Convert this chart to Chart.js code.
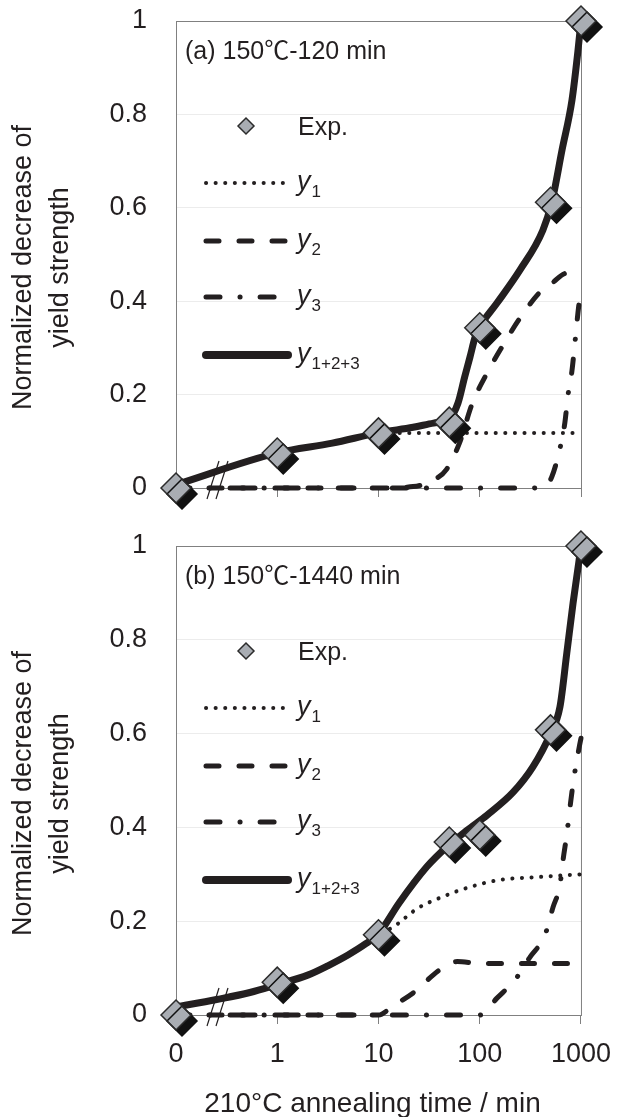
<!DOCTYPE html>
<html>
<head>
<meta charset="utf-8">
<script src="https://cdn.jsdelivr.net/npm/chart.js@4.4.0/dist/chart.umd.min.js"></script>
<style>
  body { margin: 0; background: #fff; width: 617px; height: 1117px; overflow: hidden; }
  canvas { position: absolute; left: 0; }
  #chartA { top: 0; }
  #chartB { top: 510px; }
</style>
</head>
<body>
<canvas id="chartA" width="617" height="510"></canvas>
<canvas id="chartB" width="617" height="607"></canvas>
<script>
// x axis: 0 then one decade per step (axis is broken between 0 and 1)
var xTickLabels = ["0", "1", "10", "100", "1000"];
var yTickValues = [0, 0.2, 0.4, 0.6, 0.8, 1];
var yTickLabels = ["0", "0.2", "0.4", "0.6", "0.8", "1"];

// (a) 150℃-120 min
var expTimeA = [0, 1, 10, 50, 100, 500, 1000];
var expA     = [0, 0.075, 0.118, 0.141, 0.343, 0.612, 1.0];
var sumTimeA = [0, 1, 3.5, 10, 22, 35, 50, 61, 71, 80, 90, 100, 148, 250, 420, 515, 650, 815, 935, 1000];
var sumA     = [0.007, 0.075, 0.096, 0.118, 0.13, 0.139, 0.148, 0.182, 0.238, 0.28, 0.323, 0.345, 0.396, 0.467, 0.552, 0.612, 0.724, 0.831, 0.938, 1.0];
var y1TimeA  = [0, 1, 3.5, 10, 22, 50, 100, 1000];
var y1A      = [0.007, 0.075, 0.096, 0.116, 0.118, 0.118, 0.118, 0.118];
var y2TimeA  = [0, 10, 22, 35, 47, 63, 84, 118, 170, 250, 395, 525, 725, 935, 1000];
var y2A      = [0, 0, 0.003, 0.017, 0.04, 0.096, 0.18, 0.246, 0.306, 0.364, 0.42, 0.44, 0.46, 0.452, 0.45];
var y3TimeA  = [0, 300, 450, 515, 620, 693, 742, 813, 870, 933, 1000];
var y3A      = [0, 0, 0.005, 0.024, 0.085, 0.14, 0.197, 0.25, 0.31, 0.375, 0.43];

// (b) 150℃-1440 min
var expTimeB = [0, 1, 10, 50, 100, 500, 1000];
var expB     = [0, 0.07, 0.171, 0.369, 0.384, 0.608, 1.0];
var sumTimeB = [0, 0.4, 0.73, 1, 2, 3.16, 5, 7.5, 10, 16, 30, 47, 75, 118, 214, 335, 500, 620, 725, 835, 950, 1000];
var sumB     = [0.017, 0.033, 0.048, 0.065, 0.085, 0.105, 0.128, 0.152, 0.173, 0.239, 0.316, 0.358, 0.394, 0.426, 0.475, 0.529, 0.6, 0.657, 0.772, 0.878, 0.964, 1.0];
var y1TimeB  = [0, 0.4, 0.73, 1, 2, 3.16, 5, 7.5, 10, 13.6, 24.6, 43, 80, 158, 365, 1000];
var y1B      = [0.017, 0.033, 0.048, 0.065, 0.085, 0.105, 0.128, 0.152, 0.173, 0.186, 0.228, 0.252, 0.273, 0.288, 0.294, 0.3];
var y2TimeB  = [0, 10, 14, 22, 40, 60, 100, 200, 1000];
var y2B      = [0, 0, 0.02, 0.047, 0.096, 0.114, 0.11, 0.11, 0.11];
var y3TimeB  = [0, 100, 148, 223, 315, 440, 530, 620, 665, 730, 795, 851, 963, 1000];
var y3B      = [0, 0, 0.036, 0.075, 0.124, 0.17, 0.23, 0.277, 0.33, 0.39, 0.458, 0.505, 0.572, 0.59];

var FONT = '"Liberation Sans", Arial, "Noto Sans CJK JP", sans-serif';
var INK = "#231f20";
var AXIS = "#808080";

// position on the axis: linear between 0 and 1, log10 above
function xPos(t) {
  return t <= 1 ? t : 1 + Math.log10(t);
}
function pts(times, vals) {
  return times.map(function (t, i) { return { x: xPos(t), y: vals[i] }; });
}

var DOT = [0.1, 9.5];
var DASH = [13, 20];
var DASHDOT = [14, 20, 0.1, 20];

function drawSub(ctx, x, y, sub) {
  ctx.font = "italic 27px " + FONT;
  ctx.fillText("y", x, y);
  var w = ctx.measureText("y").width;
  ctx.font = "17px " + FONT;
  ctx.fillText(sub, x + w + 1, y + 7);
}

function decoPlugin(title, showXTitle) {
  return {
    id: "deco",
    beforeDatasetsDraw: function (chart) {
      var a = chart.chartArea, ctx = chart.ctx;
      ctx.save();
      ctx.strokeStyle = AXIS;
      ctx.lineWidth = 1;
      ctx.strokeRect(a.left + 0.5, a.top + 0.5, a.right - a.left, a.bottom - a.top);
      ctx.restore();
    },
    beforeDatasetDraw: function (chart, args) {
      if (args.index === 0) {
        var ctx = chart.ctx;
        ctx.shadowColor = "#111";
        ctx.shadowOffsetX = 6;
        ctx.shadowOffsetY = 6;
        ctx.shadowBlur = 0;
      }
    },
    afterDatasetDraw: function (chart, args) {
      if (args.index === 0) {
        var ctx = chart.ctx;
        ctx.shadowColor = "rgba(0,0,0,0)";
        ctx.shadowOffsetX = 0;
        ctx.shadowOffsetY = 0;
      }
    },
    afterDraw: function (chart) {
      var a = chart.chartArea, ctx = chart.ctx;
      var lx = a.left, ty = a.top;
      var y0 = chart.scales.y.getPixelForValue(0);
      ctx.save();
      ctx.fillStyle = INK;
      ctx.strokeStyle = INK;

      // y axis title
      ctx.save();
      ctx.translate(24, (a.top + a.bottom) / 2 + 13);
      ctx.rotate(-Math.PI / 2);
      ctx.font = "27px " + FONT;
      ctx.textAlign = "center";
      ctx.textBaseline = "middle";
      ctx.fillText("Normalized decrease of", 0, 0);
      ctx.fillText("yield strength", 0, 37);
      ctx.restore();

      // axis break marks
      ctx.lineWidth = 1.2;
      [37, 46].forEach(function (dx) {
        ctx.beginPath();
        ctx.moveTo(lx + dx + 6, y0 - 27);
        ctx.lineTo(lx + dx - 6, y0 + 11);
        ctx.stroke();
      });

      // panel title
      ctx.font = "25px " + FONT;
      ctx.textAlign = "left";
      ctx.textBaseline = "alphabetic";
      ctx.fillText(title, lx + 9, ty + 38);

      // legend: Exp.
      var ey = ty + 105, ex = lx + 70, r = 8;
      ctx.beginPath();
      ctx.moveTo(ex - r, ey); ctx.lineTo(ex, ey - r); ctx.lineTo(ex + r, ey); ctx.lineTo(ex, ey + r);
      ctx.closePath();
      ctx.fillStyle = "#a9adb3";
      ctx.fill();
      ctx.lineWidth = 1.5;
      ctx.strokeStyle = "#2b2b2b";
      ctx.stroke();
      ctx.fillStyle = INK;
      ctx.strokeStyle = INK;
      ctx.font = "25px " + FONT;
      ctx.fillText("Exp.", lx + 122, ey + 9);

      // legend: model lines
      var rows = [
        { dy: 162, dash: DOT, w: 4, sub: "1" },
        { dy: 220, dash: DASH, w: 5, sub: "2" },
        { dy: 276, dash: DASHDOT, w: 5, sub: "3" },
        { dy: 334, dash: [], w: 8, sub: "1+2+3" }
      ];
      rows.forEach(function (row) {
        var yy = ty + row.dy;
        ctx.save();
        ctx.lineWidth = row.w;
        ctx.lineCap = "round";
        ctx.setLineDash(row.dash);
        ctx.beginPath();
        ctx.moveTo(lx + 30, yy);
        ctx.lineTo(lx + 112, yy);
        ctx.stroke();
        ctx.restore();
        drawSub(ctx, lx + 121, yy + 7, row.sub);
      });

      // x axis title
      if (showXTitle) {
        ctx.font = "28px " + FONT;
        ctx.textAlign = "center";
        ctx.fillText("210°C annealing time / min", (a.left + a.right) / 2 - 6, chart.height - 5);
      }
      ctx.restore();
    }
  };
}

function makeChart(id, d, title, showX, padTop, xHeight) {
  var lineDs = function (data, dash, w) {
    return {
      data: data, borderColor: INK, borderWidth: w, borderDash: dash,
      borderCapStyle: "round", pointRadius: 0, fill: false,
      cubicInterpolationMode: "monotone", clip: false
    };
  };
  return new Chart(document.getElementById(id), {
    type: "line",
    data: {
      datasets: [
        {
          data: pts(d.expT, d.exp), showLine: false, pointStyle: "rectRot",
          pointRadius: 15, pointBackgroundColor: "#a9adb3", pointBorderColor: "#2b2b2b",
          pointBorderWidth: 1.5, clip: false
        },
        lineDs(pts(d.sumT, d.sum), [], 7),
        lineDs(pts(d.y1T, d.y1), DOT, 4),
        lineDs(pts(d.y2T, d.y2), DASH, 5),
        lineDs(pts(d.y3T, d.y3), DASHDOT, 5)
      ]
    },
    options: {
      responsive: false,
      animation: false,
      devicePixelRatio: 1,
      layout: { padding: { top: padTop, right: 36, left: 0, bottom: 0 } },
      plugins: { legend: { display: false }, tooltip: { enabled: false } },
      scales: {
        x: {
          type: "linear", min: 0, max: 4,
          afterBuildTicks: function (s) { s.ticks = [0, 1, 2, 3, 4].map(function (v) { return { value: v }; }); },
          ticks: {
            display: showX, padding: 6, color: INK,
            font: { family: FONT, size: 27, lineHeight: 1.8 },
            callback: function (v, i) { return xTickLabels[i]; }
          },
          grid: { drawOnChartArea: false, drawTicks: true, tickLength: 9, color: AXIS },
          border: { display: false },
          afterFit: function (s) { s.height = xHeight; }
        },
        y: {
          min: 0, max: 1,
          afterBuildTicks: function (s) { s.ticks = yTickValues.map(function (v) { return { value: v }; }); },
          ticks: {
            padding: 0, color: INK,
            font: { family: FONT, size: 27 },
            callback: function (v, i) { return yTickLabels[i]; }
          },
          grid: {
            drawTicks: true, tickLength: 29, tickColor: "rgba(0,0,0,0)",
            color: function (c) { return (c.tick && (c.tick.value === 0 || c.tick.value === 1)) ? "rgba(0,0,0,0)" : "#ececec"; }
          },
          border: { display: false },
          afterFit: function (s) { s.width = 176; }
        }
      }
    },
    plugins: [decoPlugin(title, showX)]
  });
}

makeChart("chartA", {
  expT: expTimeA, exp: expA, sumT: sumTimeA, sum: sumA,
  y1T: y1TimeA, y1: y1A, y2T: y2TimeA, y2: y2A, y3T: y3TimeA, y3: y3A
}, "(a) 150℃-120 min", false, 21, 22);

makeChart("chartB", {
  expT: expTimeB, exp: expB, sumT: sumTimeB, sum: sumB,
  y1T: y1TimeB, y1: y1B, y2T: y2TimeB, y2: y2B, y3T: y3TimeB, y3: y3B
}, "(b) 150℃-1440 min", true, 36, 102);
</script>
</body>
</html>
